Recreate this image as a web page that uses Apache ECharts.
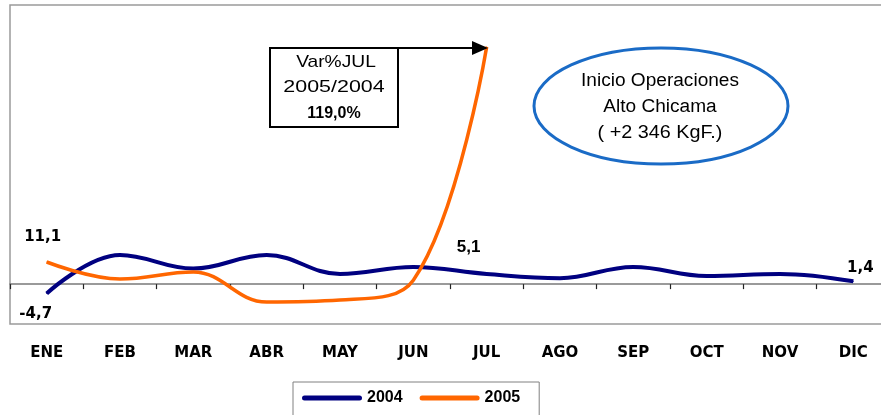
<!DOCTYPE html>
<html><head><meta charset="utf-8">
<script src="https://cdn.jsdelivr.net/npm/echarts@6/dist/echarts.min.js"></script>
<style>html,body{margin:0;padding:0;background:#fff}#c{width:881px;height:415px}</style>
</head><body><div id="c"></div>
<script>
const months = ['ENE','FEB','MAR','ABR','MAY','JUN','JUL','AGO','SEP','OCT','NOV','DIC'];
const v2004 = [-4.7, 14.6, 7.8, 14.6, 5.1, 8.6, 5.1, 3.0, 8.6, 4.1, 5.1, 1.4];
const v2005 = [11.1, 2.6, 6.1, -9.0, -8.0, 2.0, 119.0];
const seriesNames = ['2004', '2005'];
const boxLines = ['Var%JUL', '2005/2004', '119,0%'];
const noteLines = ['Inicio Operaciones', 'Alto Chicama', '( +2 346 KgF.)'];

const fmt = v => v.toFixed(1).replace('.', ',');
const lbl = (offset, size, family) => ({
  show: true, position: 'inside', offset: offset,
  formatter: p => fmt(p.value), color: '#000', fontWeight: 'bold',
  fontSize: size, fontFamily: family
});
const labels2004 = {0: lbl([-11, 21], 15, 'DejaVu Sans'), 6: lbl([-18, -27], 17, 'Liberation Sans'), 11: lbl([7, -13], 15, 'DejaVu Sans')};
const labels2005 = {0: lbl([-4, -25], 15, 'DejaVu Sans')};
const build = (arr, labels) => arr.map((v, i) => labels[i] ? {value: v, label: labels[i]} : v);

const chart = echarts.init(document.getElementById('c'));
chart.setOption({
  animation: false,
  backgroundColor: '#fff',
  grid: {left: 10, top: 5, width: 880, bottom: 91, show: true, borderColor: '#9a9a9a', borderWidth: 1.5,
         outerBoundsMode: 'none', containLabel: false},
  xAxis: {
    type: 'category', data: months, boundaryGap: true,
    axisLine: {onZero: true, lineStyle: {color: '#7a7a7a', width: 1.5}},
    axisTick: {show: true, length: 5, lineStyle: {color: '#222', width: 1.2}},
    axisLabel: {interval: 0, margin: 22, fontSize: 15, fontWeight: 'bold', fontFamily: 'DejaVu Sans', color: '#000'},
    splitLine: {show: false}
  },
  yAxis: {
    type: 'value', min: -20, max: 140,
    axisLine: {show: false}, axisTick: {show: false}, axisLabel: {show: false}, splitLine: {show: false}
  },
  legend: {
    left: 293, top: 382, padding: [8, 19, 30, 9], itemGap: 17, itemWidth: 60, itemHeight: 5,
    borderColor: '#808080', borderWidth: 1,
    icon: 'path://M2.5,0H57.5A2.5,2.5,0,0,1,57.5,5H2.5A2.5,2.5,0,0,1,2.5,0Z',
    textStyle: {fontSize: 16, fontWeight: 'bold', color: '#000', fontFamily: 'Liberation Sans', lineHeight: 16},
    data: seriesNames
  },
  series: [
    {name: seriesNames[0], type: 'line', data: build(v2004, labels2004), smooth: 0.4,
     symbol: 'circle', symbolSize: 1, showSymbol: true,
     lineStyle: {color: '#000080', width: 4}, itemStyle: {color: '#000080'}},
    {name: seriesNames[1], type: 'line', data: build(v2005, labels2005), smooth: 0.4,
     symbol: 'circle', symbolSize: 1, showSymbol: true,
     lineStyle: {color: '#FF6600', width: 3.5}, itemStyle: {color: '#FF6600'}}
  ],
  graphic: [
    {type: 'rect', shape: {x: 270, y: 48, width: 128, height: 79}, style: {fill: '#fff', stroke: '#000', lineWidth: 2}, z: 100},
    {type: 'line', shape: {x1: 398, y1: 48, x2: 474, y2: 48}, style: {stroke: '#000', lineWidth: 2}, z: 100},
    {type: 'polygon', shape: {points: [[472, 41], [488, 48], [472, 55]]}, style: {fill: '#000'}, z: 100},
    {type: 'text', x: 336, y: 62, scaleX: 1.13, z: 101, style: {text: boxLines[0], font: '17px "Liberation Sans"', fill: '#000', align: 'center', verticalAlign: 'middle'}},
    {type: 'text', x: 334, y: 87, scaleX: 1.26, z: 101, style: {text: boxLines[1], font: '17px "Liberation Sans"', fill: '#000', align: 'center', verticalAlign: 'middle'}},
    {type: 'text', x: 334, y: 114, z: 101, style: {text: boxLines[2], font: 'bold 16px "Liberation Sans"', fill: '#000', align: 'center', verticalAlign: 'middle'}},
    {type: 'ellipse', shape: {cx: 661, cy: 106, rx: 127, ry: 58}, style: {fill: 'rgba(0,0,0,0)', stroke: '#1a6bc6', lineWidth: 3}, z: 100},
    {type: 'text', x: 660, y: 81, scaleX: 1.06, z: 101, style: {text: noteLines[0], font: '18px "Liberation Sans"', fill: '#000', align: 'center', verticalAlign: 'middle'}},
    {type: 'text', x: 660, y: 107, scaleX: 1.06, z: 101, style: {text: noteLines[1], font: '18px "Liberation Sans"', fill: '#000', align: 'center', verticalAlign: 'middle'}},
    {type: 'text', x: 660, y: 133, scaleX: 1.1, z: 101, style: {text: noteLines[2], font: '18px "Liberation Sans"', fill: '#000', align: 'center', verticalAlign: 'middle'}}
  ]
});
</script></body></html>
